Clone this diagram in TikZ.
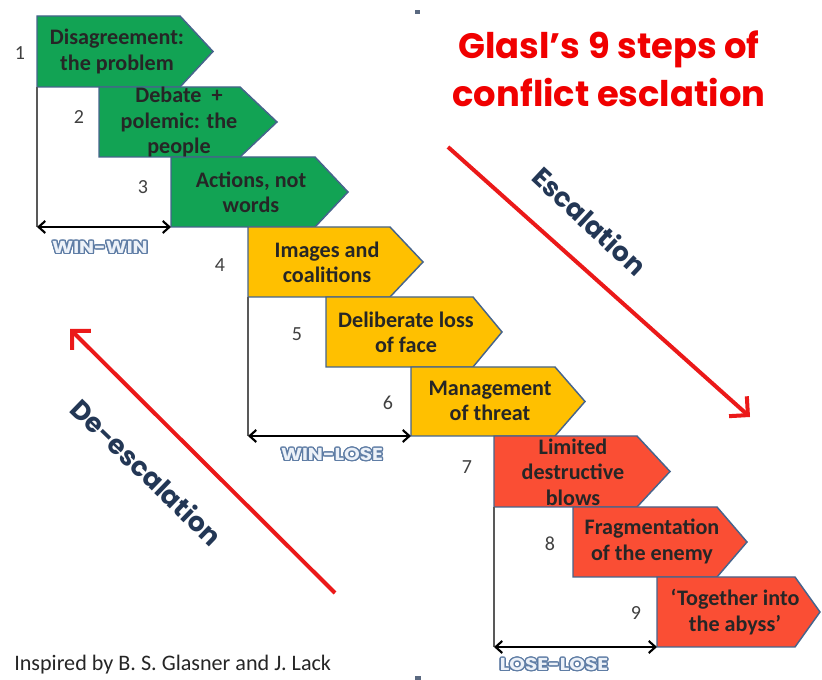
\documentclass[tikz,border=0pt]{standalone}
\usepackage{fontspec}
\setmainfont{Carlito}
\newfontfamily\popfont{Poppins}
\usepackage{contour}
\contourlength{0.75pt}
\contournumber{24}
\usetikzlibrary{arrows.meta}
\definecolor{stepgreen}{RGB}{18,163,84}
\definecolor{stepyellow}{RGB}{255,192,0}
\definecolor{stepred}{RGB}{250,78,52}
\definecolor{stepborder}{RGB}{70,100,140}
\definecolor{navytext}{RGB}{35,55,85}
\definecolor{titlered}{RGB}{240,0,0}
\definecolor{arrowred}{RGB}{235,25,25}
\definecolor{labelfill}{RGB}{236,241,248}
\definecolor{labeledge}{RGB}{95,125,165}
\definecolor{markgrey}{RGB}{90,105,128}
% #1 name, #2 left, #3 top, #4 straight end, #5 tip x, #6 bottom, #7 colour
\newcommand\glstep[7]{%
  \coordinate (#1-tl) at (#2,#3);
  \coordinate (#1-bl) at (#2,#6);
  \filldraw[stepshape, fill=#7] (#2,#3) -- (#4,#3) -- (#5,{(#3+#6)/2}) -- (#4,#6) -- (#2,#6) -- cycle;
}
\newcommand\rangetext[1]{\scalebox{1.25}[1.08]{\contour{labeledge}{#1}}}
\begin{document}
\begin{tikzpicture}[x=0.75pt,y=-0.75pt,
  stepshape/.style={draw=stepborder, line width=1.1pt},
  steptext/.style={font=\bfseries\fontsize{16.6}{19}\selectfont, text=black!85, align=center, inner sep=0},
  stepnum/.style={font=\fontsize{15}{18}\selectfont, text=black!75, inner sep=0},
  rangeline/.style={draw=black!65, line width=0.9pt},
  rangearrow/.style={draw=black, line width=1.6pt, {Straight Barb[length=5pt,width=9pt]}-{Straight Barb[length=5pt,width=9pt]}},
  rangelabel/.style={font=\popfont\bfseries\fontsize{12}{14}\selectfont, text=labelfill, inner sep=0},
  bigarrow/.style={draw=arrowred, line width=3pt, -{Straight Barb[length=10pt,width=20pt]}},
  arrowlabel/.style={font=\popfont\bfseries\fontsize{20}{24}\selectfont, text=navytext, inner sep=0},
  titletext/.style={font=\popfont\bfseries\fontsize{26.5}{36}\selectfont, text=titlered, align=center, inner sep=0},
  credit/.style={font=\fontsize{16.6}{19}\selectfont, text=black!85, inner sep=0},
  tinymark/.style={fill=markgrey, draw=none}
]
\useasboundingbox[fill=white] (0,0) rectangle (822,680);

% win-win group
\glstep{s1}{37}{16}{180}{213}{87}{stepgreen}
\glstep{s2}{99}{87}{240}{277}{157}{stepgreen}
\glstep{s3}{171}{157}{315}{348}{227}{stepgreen}
\coordinate (g1-corner) at (37,227);
\draw[rangeline] (s1-bl) -- (g1-corner);
\draw[rangearrow] (g1-corner) -- (s3-bl);

% win-lose group
\glstep{s4}{248}{227}{390}{423}{297}{stepyellow}
\glstep{s5}{326}{297}{473}{502}{367}{stepyellow}
\glstep{s6}{411}{367}{555}{585}{436}{stepyellow}
\coordinate (g2-corner) at (248,436);
\draw[rangeline] (s4-bl) -- (g2-corner);
\draw[rangearrow] (g2-corner) -- (s6-bl);

% lose-lose group
\glstep{s7}{494}{436}{637}{670}{507}{stepred}
\glstep{s8}{573}{507}{717}{747}{577}{stepred}
\glstep{s9}{657}{577}{795}{820}{647}{stepred}
\coordinate (g3-corner) at (494,647);
\draw[rangeline] (s7-bl) -- (g3-corner);
\draw[rangearrow] (g3-corner) -- (s9-bl);

% step texts
\node[steptext] (t1) at (117,51.5) {Disagreement:\\the problem};
\node[steptext] (t2) at (179,122) {Debate \ +\\polemic: the\\people};
\node[steptext] (t3) at (251,192) {Actions, not\\words};
\node[steptext] (t4) at (327,262) {Images and\\coalitions};
\node[steptext] (t5) at (406,332) {Deliberate loss\\of face};
\node[steptext] (t6) at (490,401) {Management\\of threat};
\node[steptext] (t7) at (573,472) {Limited\\destructive\\blows};
\node[steptext] (t8) at (652,541.5) {Fragmentation\\of the enemy};
\node[steptext] (t9) at (735,612) {‘Together into\\the abyss’};

% numbers
\node[stepnum] (n1) at (20,53) {1};
\node[stepnum] (n2) at (79,117) {2};
\node[stepnum] (n3) at (143,187) {3};
\node[stepnum] (n4) at (220,265) {4};
\node[stepnum] (n5) at (297,334) {5};
\node[stepnum] (n6) at (388,403) {6};
\node[stepnum] (n7) at (467,467) {7};
\node[stepnum] (n8) at (550,544) {8};
\node[stepnum] (n9) at (636,613) {9};

% range labels
\node[rangelabel] (l1) at (100,248) {\rangetext{WIN-WIN}};
\node[rangelabel] (l2) at (332,455) {\rangetext{WIN-LOSE}};
\node[rangelabel] (l3) at (554,665) {\rangetext{LOSE-LOSE}};

% title
\node[titletext] (title) at (609,69) {Glasl’s 9 steps of\\conflict esclation};

% escalation arrows
\coordinate (escA) at (448,147);
\coordinate (escB) at (750,417);
\draw[bigarrow] (escA) -- (escB);
\node[arrowlabel, rotate=-43] (esc) at (590,221) {Escalation};

\coordinate (desA) at (335,593);
\coordinate (desB) at (70,329);
\draw[bigarrow] (desA) -- (desB);
\node[arrowlabel, rotate=-44] (des) at (147,472) {De-escalation};

% credit
\node[credit, anchor=west] (cred) at (14,665) {Inspired by B. S. Glasner and J. Lack};

% small marks
\fill[tinymark] (415,10) rectangle (420,14);
\fill[tinymark] (415,676) rectangle (421,680);
\end{tikzpicture}
\end{document}
